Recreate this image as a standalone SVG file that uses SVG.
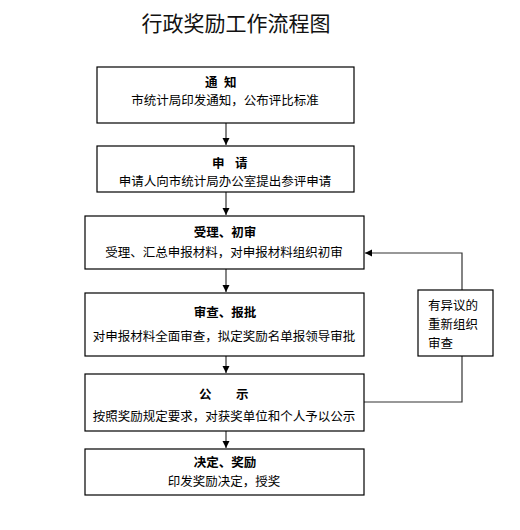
<svg xmlns="http://www.w3.org/2000/svg" width="520" height="530" viewBox="0 0 520 530">
<style>
.box{fill:#fff;stroke:#000;stroke-width:1.2}
.t{font-family:"Liberation Sans","Noto Sans CJK SC",sans-serif;font-size:12.5px;fill:#000;text-anchor:middle}
.h{font-weight:bold}
.s{text-anchor:start}
.title{font-family:"Liberation Sans","Noto Sans CJK SC",sans-serif;font-size:21px;fill:#111;text-anchor:middle}
.ln{fill:none;stroke:#333;stroke-width:1.2}
</style>
<defs>
<marker id="ah" markerWidth="8" markerHeight="8" refX="7" refY="4" orient="auto" markerUnits="userSpaceOnUse">
<path d="M0,0.5 L7,4 L0,7.5 Z" fill="#000"/>
</marker>
</defs>
<rect width="520" height="530" fill="#fff"/>
<text class="title" x="236" y="31">行政奖励工作流程图</text>

<g id="connectors">
<line class="ln" x1="226" y1="123" x2="226" y2="145" marker-end="url(#ah)"/>
<line class="ln" x1="226" y1="192" x2="226" y2="215" marker-end="url(#ah)"/>
<line class="ln" x1="226" y1="269" x2="226" y2="292" marker-end="url(#ah)"/>
<line class="ln" x1="226" y1="356" x2="226" y2="373" marker-end="url(#ah)"/>
<line class="ln" x1="226" y1="431" x2="226" y2="448" marker-end="url(#ah)"/>
<polyline class="ln" points="364,402 462,402 462,356"/>
<polyline class="ln" points="462,290 462,253 365,253" marker-end="url(#ah)"/>
</g>

<g id="n1">
<rect class="box" x="97" y="67" width="257" height="56"/>
<text class="t h s" y="87"><tspan x="205">通</tspan><tspan x="224">知</tspan></text>
<text class="t" x="225" y="105">市统计局印发通知，公布评比标准</text>
</g>
<g id="n2">
<rect class="box" x="97" y="146" width="257" height="46"/>
<text class="t h s" y="168"><tspan x="212">申</tspan><tspan x="235">请</tspan></text>
<text class="t" x="225" y="186">申请人向市统计局办公室提出参评申请</text>
</g>
<g id="n3">
<rect class="box" x="85" y="216" width="279" height="53"/>
<text class="t h" x="225" y="237">受理、初审</text>
<text class="t" x="224" y="257">受理、汇总申报材料，对申报材料组织初审</text>
</g>
<g id="n4">
<rect class="box" x="85" y="293" width="279" height="63"/>
<text class="t h" x="225" y="317">审查、报批</text>
<text class="t" x="224" y="341">对申报材料全面审查，拟定奖励名单报领导审批</text>
</g>
<g id="n5">
<rect class="box" x="85" y="374" width="279" height="57"/>
<text class="t h s" y="399"><tspan x="199">公</tspan><tspan x="236">示</tspan></text>
<text class="t" x="224" y="421">按照奖励规定要求，对获奖单位和个人予以公示</text>
</g>
<g id="n6">
<rect class="box" x="85" y="449" width="279" height="46"/>
<text class="t h" x="225" y="467">决定、奖励</text>
<text class="t" x="224" y="486">印发奖励决定，授奖</text>
</g>
<g id="n7">
<rect class="box" x="418" y="290" width="75" height="66"/>
<text class="t s" x="428" y="310">有异议的</text>
<text class="t s" x="428" y="329">重新组织</text>
<text class="t s" x="428" y="348">审查</text>
</g>
</svg>
